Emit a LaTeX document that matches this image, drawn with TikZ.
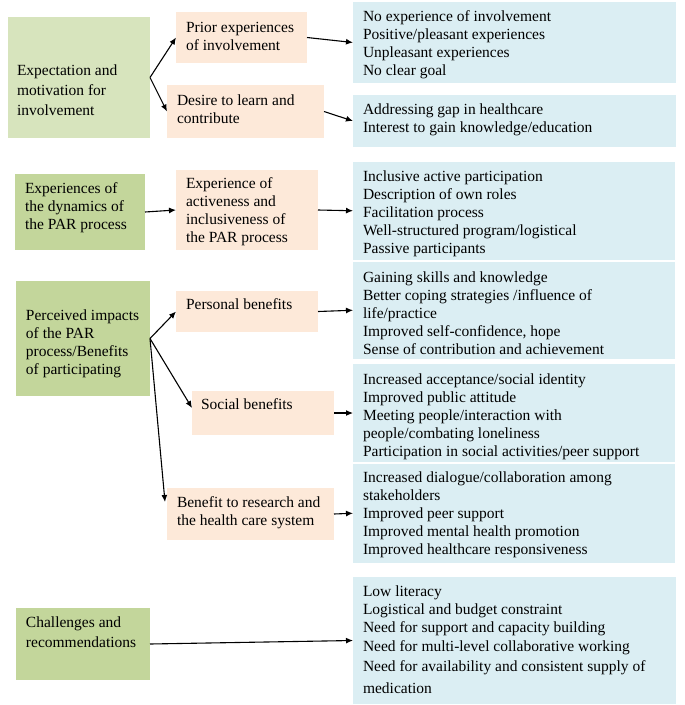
\documentclass[tikz,border=0pt]{standalone}
\usepackage{fontspec}
\setmainfont{Liberation Serif}
\usetikzlibrary{arrows.meta,calc,fit}
\definecolor{gA}{HTML}{D7E4BD}
\definecolor{gB}{HTML}{C3D69B}
\definecolor{pk}{HTML}{FDE9D9}
\definecolor{bl}{HTML}{DBEEF3}
\newcommand\myfs{\fontsize{15.5}{18}\selectfont}
\newcommand\myfw{\fontsize{15.5}{20}\selectfont}
\newcommand\lns[1]{\begin{tabular}[t]{@{}l@{}}#1\end{tabular}}
\tikzset{
  box/.style={inner sep=0pt, outer sep=0pt, draw=none},
  txt/.style={anchor=base west, inner sep=0pt, outer sep=0pt, font=\myfs},
  txtw/.style={anchor=base west, inner sep=0pt, outer sep=0pt, font=\myfw},
  arr/.style={-{Latex[length=7pt,width=6pt]}, line width=1.1pt, black}
}
\begin{document}
\begin{tikzpicture}[x=1pt,y=-1pt]
\useasboundingbox (0,0) rectangle (685,705);
% boxes
\node[box, fill=gA, fit={(8,17) (150,138)}] (G1) {};
\node[box, fill=pk, fit={(176,12) (307,63)}] (P1) {};
\node[box, fill=pk, fit={(167,85) (324,138)}] (P2) {};
\node[box, fill=bl, fit={(353,2) (676,83)}] (B1) {};
\node[box, fill=bl, fit={(353,95) (676,147)}] (B2) {};
\node[box, fill=gB, fit={(15,174) (145,250)}] (G2) {};
\node[box, fill=pk, fit={(176,170) (318,250)}] (P3) {};
\node[box, fill=bl, fit={(353,162) (675,259.5)}] (B3) {};
\node[box, fill=gB, fit={(16,281) (150,396)}] (G3) {};
\node[box, fill=pk, fit={(176,291) (318,332)}] (P4) {};
\node[box, fill=bl, fit={(353,261.5) (675,359)}] (B4) {};
\node[box, fill=pk, fit={(192,391) (334,435)}] (P5) {};
\node[box, fill=bl, fit={(353,364) (675,462)}] (B5) {};
\node[box, fill=pk, fit={(167,488) (334,540)}] (P6) {};
\node[box, fill=bl, fit={(353,463.5) (675,563)}] (B6) {};
\node[box, fill=gB, fit={(16,608) (150,680)}] (G4) {};
\node[box, fill=bl, fit={(353,577) (676,704)}] (B7) {};
% texts
\node[txtw] (tG1) at (17,75) {\lns{Expectation and\\motivation for\\involvement}};
\node[txt] (tP1) at (186,32) {\lns{Prior experiences\\of involvement}};
\node[txt] (tP2) at (177,105) {\lns{Desire to learn and\\contribute}};
\node[txt] (tB1) at (363,21) {\lns{No experience of involvement\\Positive/pleasant experiences\\Unpleasant experiences\\No clear goal}};
\node[txt] (tB2) at (363,114) {\lns{Addressing gap in healthcare\\Interest to gain knowledge/education}};
\node[txt] (tG2) at (25,193) {\lns{Experiences of\\the dynamics of\\the PAR process}};
\node[txt] (tP3) at (186,188) {\lns{Experience of\\activeness and\\inclusiveness of\\the PAR process}};
\node[txt] (tB3) at (363,181) {\lns{Inclusive active participation\\Description of own roles\\Facilitation process\\Well-structured program/logistical\\Passive participants}};
\node[txt] (tG3) at (26,320) {\lns{Perceived impacts\\of the PAR\\process/Benefits\\of participating}};
\node[txt] (tP4) at (186,309) {Personal benefits};
\node[txt] (tB4) at (363,282) {\lns{Gaining skills and knowledge\\Better coping strategies /influence of\\life/practice\\Improved self-confidence, hope\\Sense of contribution and achievement}};
\node[txt] (tP5) at (201,409) {Social benefits};
\node[txt] (tB5) at (363,384) {\lns{Increased acceptance/social identity\\Improved public attitude\\Meeting people/interaction with\\people/combating loneliness\\Participation in social activities/peer support}};
\node[txt] (tP6) at (177,507) {\lns{Benefit to research and\\the health care system}};
\node[txt] (tB6) at (363,482) {\lns{Increased dialogue/collaboration among\\stakeholders\\Improved peer support\\Improved mental health promotion\\Improved healthcare responsiveness}};
\node[txtw] (tG4) at (26,627) {\lns{Challenges and\\recommendations}};
\node[txt] (tB7) at (363,596) {\lns{Low literacy\\Logistical and budget constraint\\Need for support and capacity building\\[1pt]Need for multi-level collaborative working\\[2pt]Need for availability and consistent supply of\\[4pt]medication}};
% connectors
\draw[arr] (G1.east) -- (P1.west);
\draw[arr] (G1.east) -- (P2.west);
\draw[arr] (P1.east) -- (B1.west);
\draw[arr] (P2.east) -- (B2.west);
\draw[arr] (G2.east) -- (P3.west);
\draw[arr] (P3.east) -- (B3.west);
\draw[arr] (G3.east) -- (P4.west);
\draw[arr] (G3.east) -- ($(P5.north west)+(0,17)$);
\draw[arr] (G3.east) -- ($(P6.north west)+(-2,14)$);
\draw[arr] (P4.east) -- (B4.west);
\draw[arr] (P5.east) -- (B5.west);
\draw[arr] (P6.east) -- (B6.west);
\draw[arr] (G4.east) -- (B7.west);
\end{tikzpicture}
\end{document}
